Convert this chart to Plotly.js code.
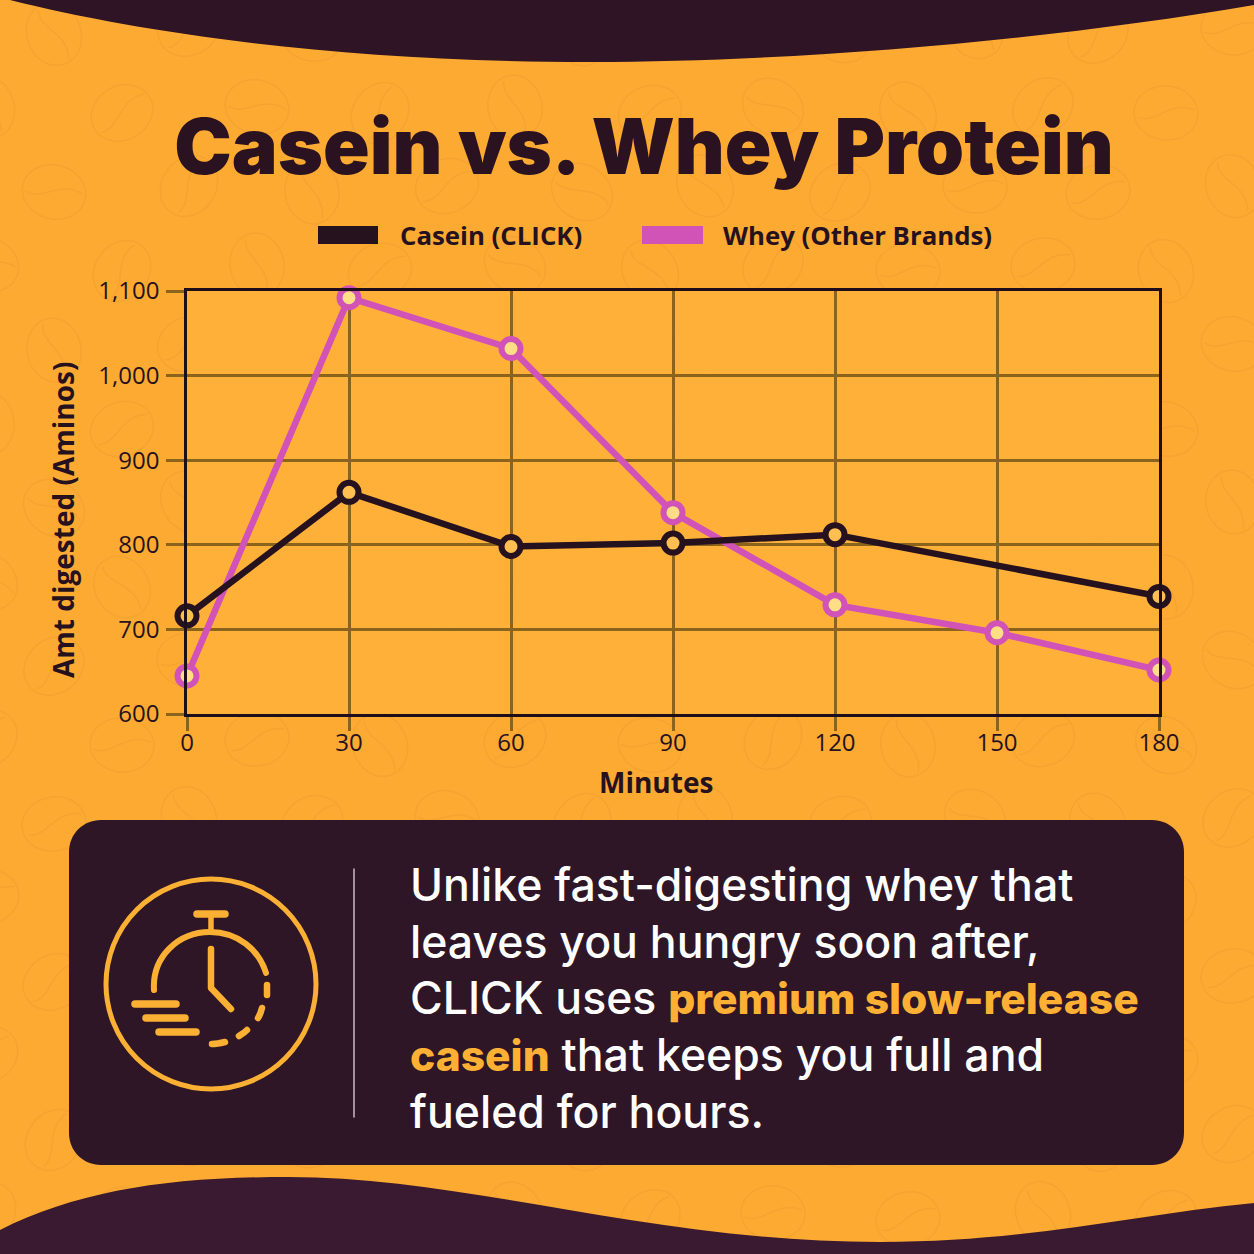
<!DOCTYPE html>
<html>
<head>
<meta charset="utf-8">
<script src="https://cdn.plot.ly/plotly-3.0.1.min.js"></script>
<style>
html,body{margin:0;padding:0;background:#FDAA33;}
#chart{width:1254px;height:1254px;}
.shapelayer path{stroke-linecap:round;stroke-linejoin:round;}
</style>
</head>
<body>
<div id="chart"></div>
<script>
const caseinMinutes = [0, 30, 60, 90, 120, 180];
const caseinValues = [716, 862, 798, 802, 812, 739];
const wheyMinutes = [0, 30, 60, 90, 120, 150, 180];
const wheyValues = [645, 1092, 1032, 838, 729, 696, 652];
const xTicks = [0, 30, 60, 90, 120, 150, 180];
const yTicks = [600, 700, 800, 900, 1000, 1100];
const chartTitle = 'Casein vs. Whey Protein';
const caseinName = 'Casein (CLICK)';
const wheyName = 'Whey (Other Brands)';
const xLabel = 'Minutes';
const yLabel = 'Amt digested (Aminos)';
const hl = 'color:#FDB033;font-weight:800;font-size:42.5px';
const panelLines = [
  'Unlike fast-digesting whey that',
  'leaves you hungry soon after,',
  'CLICK uses <span style="' + hl + '">premium slow-release</span>',
  '<span style="' + hl + '">casein</span> that keeps you full and',
  'fueled for hours.'
];

const L = 187, R = 1159, T = 291, B = 714;
const px = x => ((x - L) / (R - L)).toFixed(5);
const py = y => ((B - y) / (B - T)).toFixed(5);
const fx = x => (x - L) / (R - L);
const fy = y => (B - y) / (B - T);
// Turn "M x,y C ..." written in page pixels into paper fractions
function P(cmds) {
  return cmds.map(c => c[0] + ' ' + c.slice(1).map((v, i) => i % 2 ? py(v) : px(v)).join(' ')).join(' ');
}
function bean(cx, cy, rot, rx, ry) {
  const a = rot * Math.PI / 180, c = Math.cos(a), s = Math.sin(a), k = 0.5523;
  const t = (u, v) => [cx + u * c - v * s, cy + u * s + v * c];
  const m = (...pts) => pts.flatMap(p => t(p[0], p[1]));
  return [
    ['M', ...m([-rx, 0])],
    ['C', ...m([-rx, -ry * k], [-rx * k, -ry], [0, -ry])],
    ['C', ...m([rx * k, -ry], [rx, -ry * k], [rx, 0])],
    ['C', ...m([rx, ry * k], [rx * k, ry], [0, ry])],
    ['C', ...m([-rx * k, ry], [-rx, ry * k], [-rx, 0])],
    ['M', ...m([-rx * 0.85, ry * 0.25])],
    ['C', ...m([-rx * 0.3, ry * 0.45], [rx * 0.1, -ry * 0.5], [rx * 0.88, -ry * 0.2])]
  ];
}
// Decorative background beans
const rots = [-10, 70, -30, 15, -55, 80, -20, 35, 60, -40, 5];
let beanCmds = [], idx = 0;
for (let r = 0; r < 16; r++) {
  for (let q = -1; q < 11; q++) {
    const cx = q * 131 + (r % 2 ? 68 : 0) + 50 + (idx % 3) * 4;
    const cy = 28 + r * 79 + (idx % 2) * 6;
    beanCmds = beanCmds.concat(bean(cx, cy, rots[idx % rots.length], 32, 27));
    idx++;
  }
}
function line(x1, y1, x2, y2, w, col) {
  return {type: 'path', xref: 'paper', yref: 'paper', layer: 'below',
    path: P([['M', x1, y1], ['L', x2, y2]]), line: {color: col, width: w}};
}
function curve(cmds, w, col) {
  return {type: 'path', xref: 'paper', yref: 'paper', layer: 'below',
    path: P(cmds), line: {color: col, width: w}};
}
function filled(cmds, col) {
  return {type: 'path', xref: 'paper', yref: 'paper', layer: 'below',
    path: P(cmds) + ' Z', fillcolor: col, line: {width: 0}};
}
const gold = '#FBB034';
const R0 = 32;
const shapes = [
  {type: 'path', xref: 'paper', yref: 'paper', layer: 'below',
    path: P(beanCmds), line: {color: 'rgba(150,90,20,0.08)', width: 1.5}},
  {type: 'rect', xref: 'paper', yref: 'paper', layer: 'below', x0: 0, x1: 1, y0: 0, y1: 1,
    fillcolor: 'rgba(255,178,58,0.85)', line: {width: 0}},
  filled([['M', 0, -2], ['L', 0, 0], ['L', 10, 0], ['C', 150, 35, 350, 62, 590, 62],
    ['C', 800, 62, 1050, 40, 1254, 5], ['L', 1254, -2]], '#2E1424'),
  filled([['M', 0, 1256], ['L', 0, 1230], ['C', 80, 1190, 170, 1177, 288, 1177],
    ['C', 470, 1177, 650, 1242, 880, 1242], ['C', 1030, 1242, 1130, 1215, 1254, 1203], ['L', 1254, 1256]], '#3A1A30'),
  filled([['M', 69 + R0, 820], ['L', 1184 - R0, 820], ['C', 1170, 820, 1184, 834, 1184, 820 + R0],
    ['L', 1184, 1165 - R0], ['C', 1184, 1151, 1170, 1165, 1184 - R0, 1165], ['L', 69 + R0, 1165],
    ['C', 83, 1165, 69, 1151, 69, 1165 - R0], ['L', 69, 820 + R0], ['C', 69, 834, 83, 820, 69 + R0, 820]], '#2E1626'),
  // legend swatches
  filled([['M', 318, 226], ['L', 378, 226], ['L', 378, 244], ['L', 318, 244]], '#26111F'),
  filled([['M', 642, 226], ['L', 703, 226], ['L', 703, 244], ['L', 642, 244]], '#D253B8'),
  // divider
  line(354, 869, 354, 1117, 1.5, '#CDB9C8'),
  // stopwatch icon
  {type: 'circle', xref: 'paper', yref: 'paper', layer: 'below',
    x0: fx(106), x1: fx(316), y0: fy(1089), y1: fy(879), line: {color: gold, width: 5}},
  line(197, 914, 225, 914, 7.5, gold),
  line(211, 914, 211, 931, 5.5, gold),
  curve([['M', 154, 990], ['C', 152, 957, 178, 932, 210, 932], ['C', 238, 932, 259, 950, 266, 973]], 6, gold),
  curve([['M', 267, 985], ['C', 267, 989, 267, 992, 267, 995]], 6.5, gold),
  curve([['M', 262, 1008], ['C', 261, 1012, 260, 1015, 258, 1018]], 6.5, gold),
  curve([['M', 247, 1030], ['C', 244, 1033, 242, 1034, 239, 1036]], 6.5, gold),
  curve([['M', 225, 1042], ['C', 221, 1043, 217, 1044, 212, 1044]], 6.5, gold),
  curve([['M', 211, 949], ['L', 211, 988], ['L', 231, 1009]], 6.5, gold),
  line(135, 1004, 176, 1004, 7.5, gold),
  line(146, 1018, 185, 1018, 7.5, gold),
  line(159, 1032, 196, 1032, 7.5, gold)
];
const ink = '#26121F';
function note(x, y, text, size, opts) {
  return Object.assign({
    xref: 'paper', yref: 'paper', x: fx(x), y: fy(y), text, showarrow: false,
    xanchor: 'left', yanchor: 'middle',
    font: {family: 'Open Sans, sans-serif', size, color: ink, weight: 700}
  }, opts || {});
}
const annotations = [
  note(397.5, 235, caseinName, 25.8),
  note(721, 235, wheyName, 25.8),
  note(656, 782, xLabel, 28, {xanchor: 'center'}),
  note(63, 520, yLabel, 28, {xanchor: 'center', textangle: -90})
];
const ys = [885, 942, 998, 1055, 1112];
panelLines.forEach((t, i) => annotations.push(note(408, ys[i], t, 44.6, {
  font: {family: 'Inter, sans-serif', size: 44.6, color: '#FFFFFF', weight: 500}
})));

const traces = [
  {x: wheyMinutes, y: wheyValues, name: wheyName, type: 'scatter', mode: 'lines+markers', cliponaxis: false,
    line: {color: '#D253B8', width: 6.5},
    marker: {size: 19, color: '#FFDE85', line: {color: '#D253B8', width: 6}}},
  {x: caseinMinutes, y: caseinValues, name: caseinName, type: 'scatter', mode: 'lines+markers', cliponaxis: false,
    line: {color: '#26111F', width: 6.5},
    marker: {size: 19, color: '#FFBE50', line: {color: '#26111F', width: 6}}}
];
const gridCol = '#8A641C';
const layout = {
  width: 1254, height: 1254,
  margin: {l: L, r: 1254 - R, t: T, b: 1254 - B, pad: 0},
  paper_bgcolor: '#FDAA33', plot_bgcolor: 'rgba(0,0,0,0)',
  showlegend: false,
  title: {text: chartTitle, x: 644 / 1254, xanchor: 'center', y: 1 - 147 / 1254, yanchor: 'middle', yref: 'container',
    font: {family: 'Inter, sans-serif', size: 77, color: '#2A1220', weight: 900}},
  xaxis: {range: [0, 180], tickvals: xTicks, ticks: 'outside', ticklen: 14, tickwidth: 2.5, tickcolor: gridCol,
    showgrid: true, gridcolor: gridCol, gridwidth: 2.5, zeroline: false,
    showline: true, mirror: true, linecolor: '#1E0E1A', linewidth: 2.5, ticklabelstandoff: -9,
    tickfont: {family: 'Open Sans, sans-serif', size: 24, color: ink}},
  yaxis: {range: [600, 1100], tickvals: yTicks, tickformat: ',d', ticks: 'outside', ticklen: 18, tickwidth: 2.5, tickcolor: gridCol,
    showgrid: true, gridcolor: gridCol, gridwidth: 2.5, zeroline: false,
    showline: true, mirror: true, linecolor: '#1E0E1A', linewidth: 2.5, ticklabelstandoff: 2,
    tickfont: {family: 'Open Sans, sans-serif', size: 24, color: ink}},
  shapes, annotations
};
Plotly.newPlot('chart', traces, layout, {displayModeBar: false, responsive: false});
</script>
</body>
</html>
